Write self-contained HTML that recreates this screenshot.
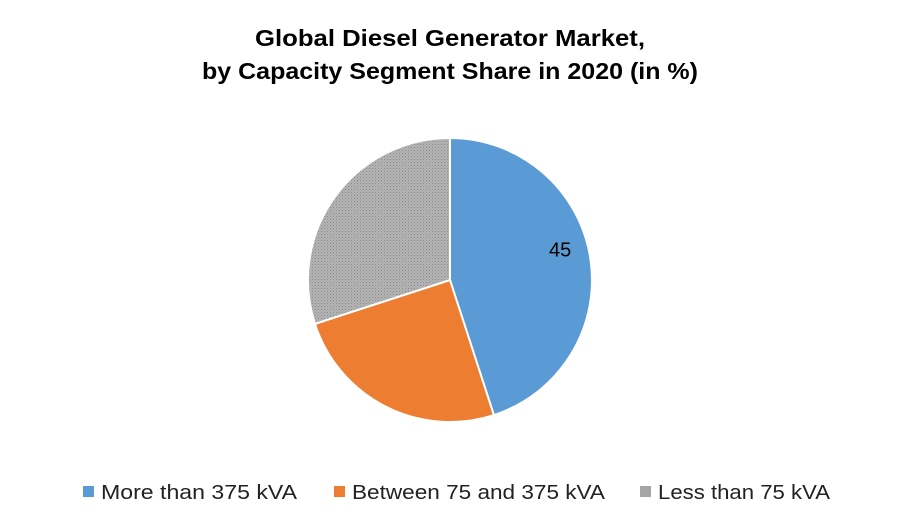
<!DOCTYPE html>
<html><head><meta charset="utf-8"><style>
body{margin:0;background:#fff;}
svg{display:block;font-family:"Liberation Sans",sans-serif;}
</style></head><body>
<svg id="chart" width="900" height="525">
<defs>
<pattern id="hatch" width="3" height="3" patternUnits="userSpaceOnUse">
<rect width="3" height="3" fill="#b4b4b4"/>
<rect width="1" height="1" fill="#8a8a8a"/>
<rect x="1.5" y="1.5" width="1" height="1" fill="#9a9a9a"/>
</pattern>
</defs>
<text x="450" y="46" text-anchor="middle" font-size="23" font-weight="bold" fill="#000" textLength="390" lengthAdjust="spacingAndGlyphs">Global Diesel Generator Market,</text>
<text x="450" y="79" text-anchor="middle" font-size="23" font-weight="bold" fill="#000" textLength="496" lengthAdjust="spacingAndGlyphs">by Capacity Segment Share in 2020 (in %)</text>
<g id="slices"></g>
<g id="legend"></g>
</svg>
<script>
const categories = ["More than 375 kVA","Between 75 and 375 kVA","Less than 75 kVA"];
const values = [45, 25, 30];
const labels = ["45", "", ""];
const colors = ["#5b9bd5","#ed7d31","url(#hatch)"];
const legendColors = ["#5b9bd5","#ed7d31","#a5a5a5"];
const NS="http://www.w3.org/2000/svg";
const cx=450, cy=280, r=142;
const total=values.reduce((a,b)=>a+b,0);
const g=document.getElementById('slices');
let a0=0;
function pt(a,rr){return [cx+rr*Math.sin(a), cy-rr*Math.cos(a)];}
values.forEach((v,i)=>{
  const a1=a0+v/total*2*Math.PI;
  const p0=pt(a0,r), p1=pt(a1,r);
  const large=(a1-a0)>Math.PI?1:0;
  const p=document.createElementNS(NS,'path');
  p.setAttribute('d',`M${cx},${cy} L${p0[0]},${p0[1]} A${r},${r} 0 ${large} 1 ${p1[0]},${p1[1]} Z`);
  p.setAttribute('fill',colors[i]);
  p.setAttribute('stroke','#fff');
  p.setAttribute('stroke-width','2');
  
  
  g.appendChild(p);
  if(labels[i]){
    const m=pt((a0+a1)/2, r*0.7);
    const t=document.createElementNS(NS,'text');
    t.setAttribute('x',m[0]+12);t.setAttribute('y',m[1]-15+7);
    t.setAttribute('text-anchor','middle');t.setAttribute('font-size','20');
    t.textContent=labels[i];
    
    
    g.appendChild(t);
  }
  a0=a1;
});
const lg=document.getElementById('legend');
const lx=[83,334,640];
const lw=[196,253,172];
categories.forEach((c,i)=>{
  const r2=document.createElementNS(NS,'rect');
  r2.setAttribute('x',lx[i]);r2.setAttribute('y',486);r2.setAttribute('width',11);r2.setAttribute('height',11);
  r2.setAttribute('fill',legendColors[i]);
  
  
  lg.appendChild(r2);
  const t=document.createElementNS(NS,'text');
  t.setAttribute('x',lx[i]+18);t.setAttribute('y',499);t.setAttribute('font-size','20');t.setAttribute('fill','#222');
  t.setAttribute('textLength',lw[i]);t.setAttribute('lengthAdjust','spacingAndGlyphs');
  t.textContent=c;
  
  
  lg.appendChild(t);
});
</script>
</body></html>
